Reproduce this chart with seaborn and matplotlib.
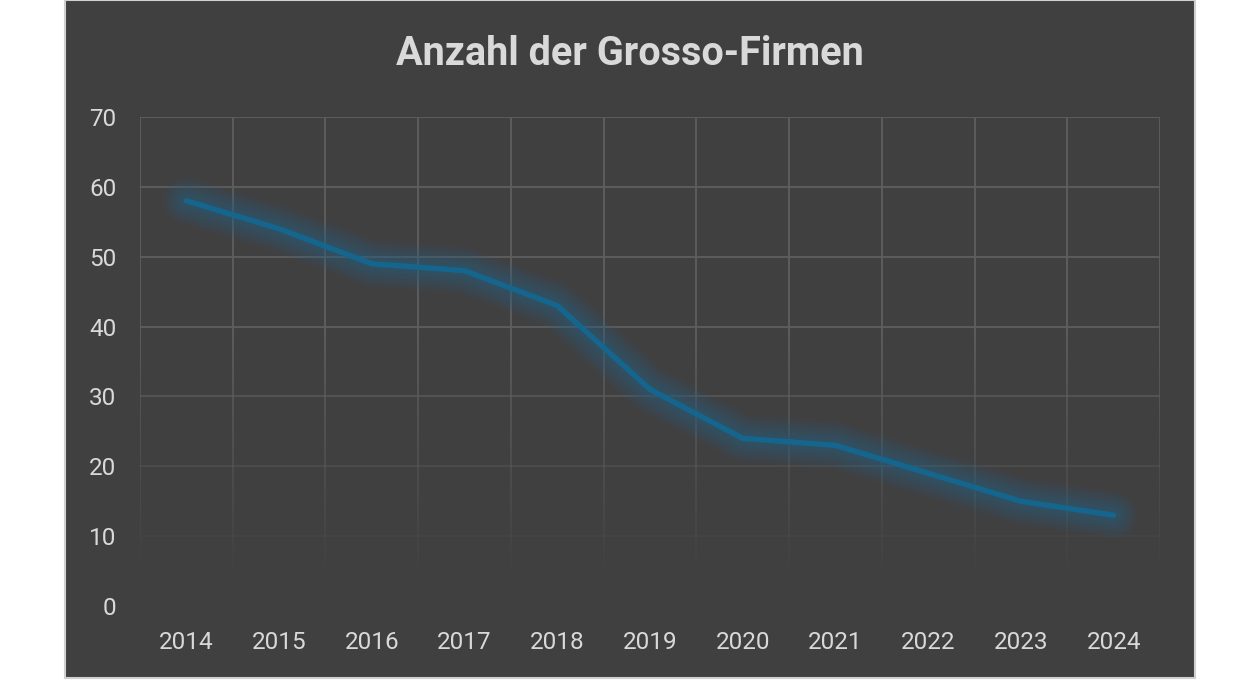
import numpy as np
import pandas as pd
import matplotlib
matplotlib.use("Agg")
import matplotlib.pyplot as plt
from matplotlib.patches import Rectangle
import seaborn as sns

# chart data
years = ["2014", "2015", "2016", "2017", "2018", "2019", "2020", "2021", "2022", "2023", "2024"]
firms = [58, 54, 49, 48, 43, 31, 24, 23, 19, 15, 13]
y_ticks = [0, 10, 20, 30, 40, 50, 60, 70]
title = "Anzahl der Grosso-Firmen"

bg = "#404040"
grid_col = "#5e5e5e"
text_col = "#d9d9d9"
line_col = "#15668f"

sns.set_theme(style="dark")
plt.rcParams["font.family"] = ["Roboto", "DejaVu Sans"]

df = pd.DataFrame({"year": years, "firms": firms})
df["pos"] = np.arange(len(years))

fig = plt.figure(figsize=(12.6, 6.8), dpi=100)
fig.patch.set_facecolor("white")
# dark chart panel
fig.patches.append(Rectangle((65 / 1260, 2 / 680), 1130 / 1260, 678 / 680,
                             transform=fig.transFigure, facecolor=bg,
                             edgecolor="#d0d0d0", linewidth=1.5, zorder=-5))

ax = fig.add_axes([140 / 1260, 1 - 606 / 680, 1020 / 1260, 489 / 680])
ax.set_zorder(2)
ax.patch.set_alpha(0)
ax.set_xlim(-0.5, len(years) - 0.5)
ax.set_ylim(0, 70)
ax.grid(False)
for s in ax.spines.values():
    s.set_visible(False)

# grid lines fading out towards the bottom
for v in y_ticks[1:]:
    a = min(1.0, max(0.08, (v - 5) / 35))
    ax.axhline(v, color=grid_col, lw=1.3, alpha=a, zorder=1)
edges = np.arange(len(years) + 1) - 0.5
steps = np.linspace(0, 70, 57)
for e in edges:
    for lo, hi in zip(steps[:-1], steps[1:]):
        a = min(1.0, max(0.0, (lo - 3) / 35))
        ax.plot([e, e], [lo, hi], color=grid_col, lw=1.3, alpha=a,
                solid_capstyle="butt", zorder=1)

# soft glow behind the line
for w in np.linspace(34, 6, 16):
    ax.plot(df["pos"], df["firms"], color="#2b6c8c", lw=w, alpha=0.045,
            solid_capstyle="round", solid_joinstyle="round", zorder=2)
sns.lineplot(data=df, x="pos", y="firms", ax=ax, color=line_col, lw=3.8,
             solid_capstyle="round", zorder=3)

ax.set_xticks(df["pos"])
ax.set_xticklabels(years)
ax.set_yticks(y_ticks)
ax.tick_params(axis="both", colors=text_col, labelsize=17.5, length=0)
ax.tick_params(axis="x", pad=18)
ax.tick_params(axis="y", pad=17)
ax.set_xlabel("")
ax.set_ylabel("")

fig.text(630 / 1260, 1 - 54 / 680, title, ha="center", va="center",
         fontsize=28.5, fontweight="bold", color=text_col)

fig.savefig("out.png", dpi=100, facecolor=fig.get_facecolor())
